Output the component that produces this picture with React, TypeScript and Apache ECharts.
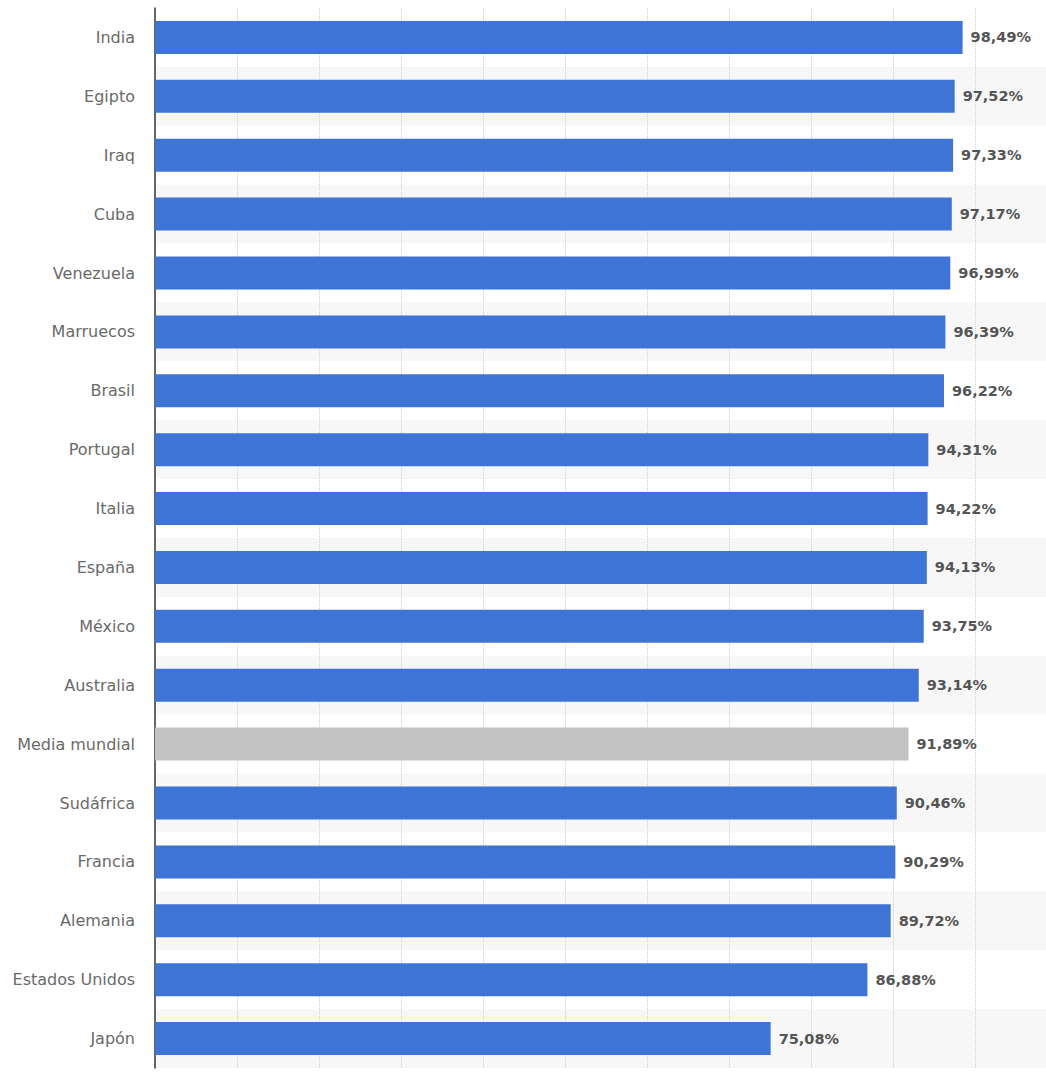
import React, { useEffect, useRef } from "react";
import * as echarts from "echarts";

const categories = [
  "India", "Egipto", "Iraq", "Cuba", "Venezuela", "Marruecos", "Brasil", "Portugal", "Italia",
  "España", "México", "Australia", "Media mundial", "Sudáfrica", "Francia", "Alemania",
  "Estados Unidos", "Japón",
];
const values = [
  98.49, 97.52, 97.33, 97.17, 96.99, 96.39, 96.22, 94.31, 94.22, 94.13, 93.75, 93.14, 91.89,
  90.46, 90.29, 89.72, 86.88, 75.08,
];
const highlighted = ["Media mundial"];

export default function App() {
  const ref = useRef<HTMLDivElement>(null);
  useEffect(() => {
    if (!ref.current) return;
    const chart = echarts.init(ref.current, null, { renderer: "svg" });
    chart.setOption({
      animation: false,
      backgroundColor: "#ffffff",
      grid: { left: 155, right: 0, top: 8, bottom: 12, containLabel: false },
      xAxis: {
        type: "value",
        min: 0,
        max: 108.66,
        interval: 10,
        axisLabel: { show: false },
        axisTick: { show: false },
        axisLine: { show: false },
        splitLine: {
          show: true,
          showMinLine: false,
          showMaxLine: false,
          lineStyle: { color: "#cfcfcf", type: "dotted", width: 1 },
        },
      },
      yAxis: {
        type: "category",
        inverse: true,
        data: categories,
        axisTick: { show: false },
        axisLine: { show: true, lineStyle: { color: "#333333", width: 1.5 } },
        axisLabel: {
          color: "#6a6a6a",
          fontFamily: "DejaVu Sans",
          fontSize: 16,
          margin: 20,
        },
        splitArea: { show: true, areaStyle: { color: ["#ffffff", "#f7f7f7"] } },
      },
      series: [
        {
          type: "bar",
          barWidth: 33,
          data: categories.map((c, i) => ({
            value: values[i],
            itemStyle: { color: highlighted.includes(c) ? "#c2c2c2" : "#3d74d6" },
          })),
          label: {
            show: true,
            position: "right",
            distance: 8,
            color: "#555555",
            fontFamily: "DejaVu Sans",
            fontWeight: "bold",
            fontSize: 14.5,
            formatter: (p: any) => p.value.toFixed(2).replace(".", ",") + "%",
          },
        },
      ],
    });
    return () => chart.dispose();
  }, []);
  return (
    <div
      ref={ref}
      style={{ position: "absolute", left: 0, top: 0, width: 1046, height: 1080 }}
    />
  );
}
